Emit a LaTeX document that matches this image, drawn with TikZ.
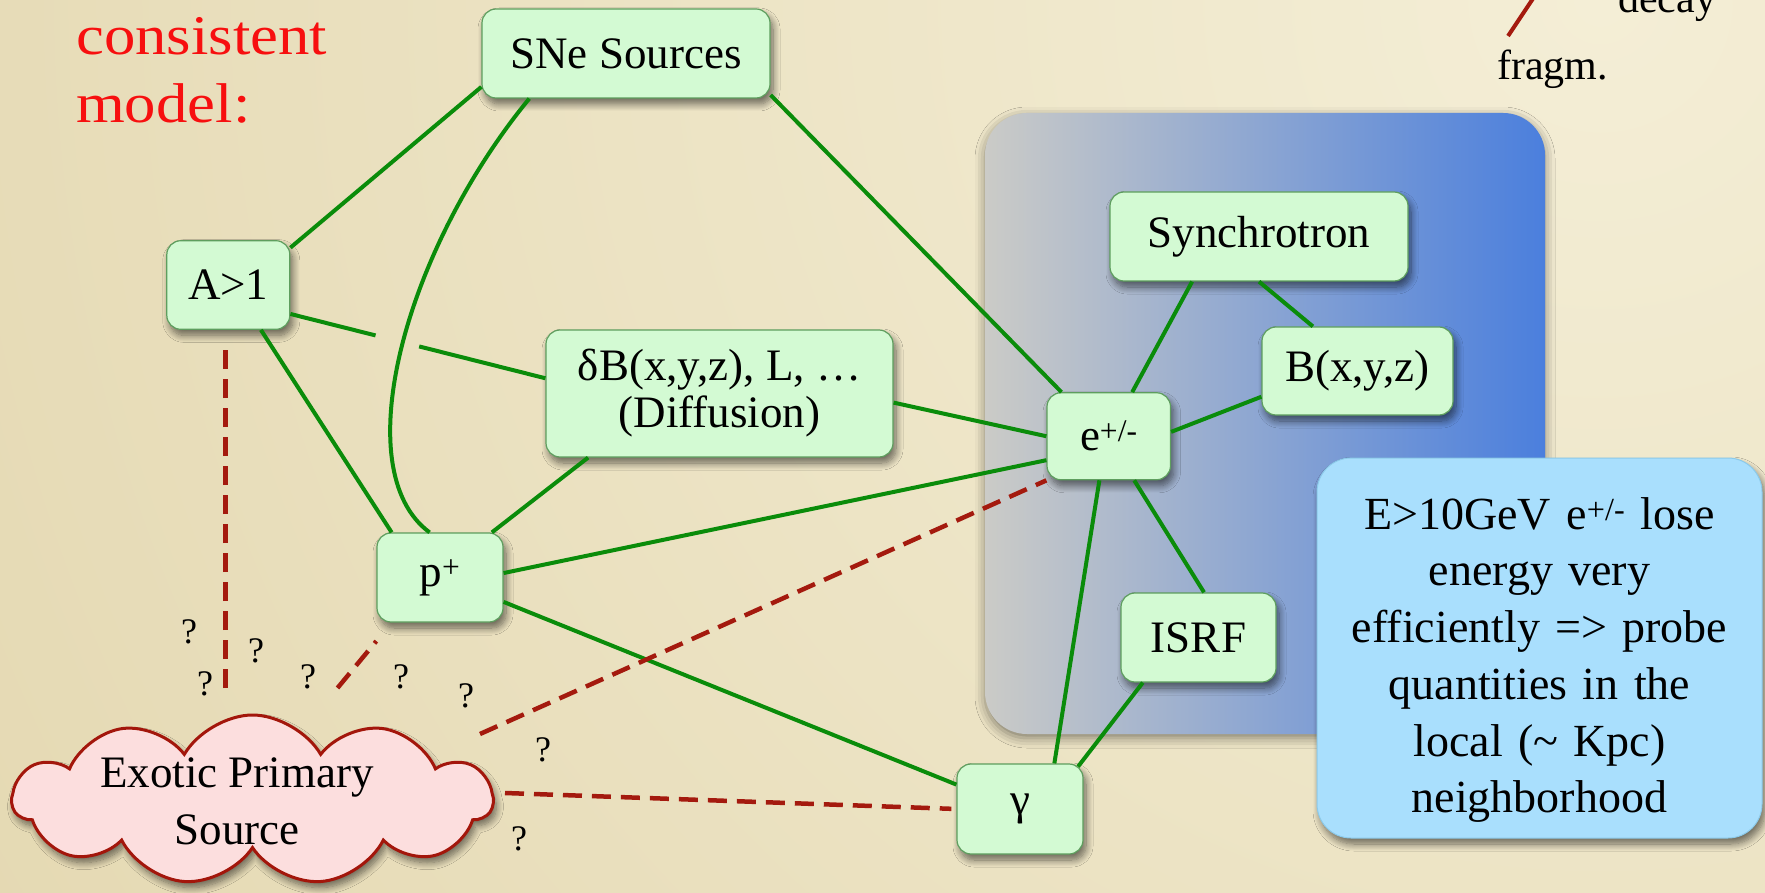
\documentclass[tikz,border=0pt]{standalone}
\usepackage{fontspec}
\setmainfont{Liberation Serif}
\newfontfamily\titlefont{Liberation Serif}[FakeStretch=1.12]
\usetikzlibrary{calc,shapes.symbols,shadows.blur}

\definecolor{parchlight}{HTML}{F4EED6}
\definecolor{parchdark}{HTML}{D5C38E}
\definecolor{linkgreen}{HTML}{0A8C0A}
\definecolor{boxfill}{HTML}{D3FAD3}
\definecolor{boxedge}{HTML}{5E9E5E}
\definecolor{qred}{HTML}{A41A0E}
\definecolor{cloudfill}{HTML}{FCDEDE}
\definecolor{cloudedge}{HTML}{A3160B}
\definecolor{panelleft}{HTML}{CBCBC7}
\definecolor{panelright}{HTML}{4B7FDD}
\definecolor{notefill}{HTML}{A9DFFD}
\definecolor{noteedge}{HTML}{8CCAEA}
\definecolor{titlered}{HTML}{F70F0F}

\tikzset{
  softshadow/.style={blur shadow={shadow xshift=3pt, shadow yshift=-6pt,
      shadow blur radius=7pt, shadow blur steps=10, shadow opacity=55}},
  stage/.style={draw=boxedge, line width=1.2pt, fill=boxfill,
      rounded corners=14pt, inner sep=0pt, align=center,
      font=\fontsize{45}{47}\selectfont, softshadow},
  notebox/.style={draw=noteedge, line width=1pt, fill=notefill,
      rounded corners=34pt, inner sep=0pt, align=center, text width=440pt,
      minimum width=445pt, minimum height=380pt,
      font=\fontsize{46}{56.7}\selectfont, softshadow},
  link/.style={draw=linkgreen, line width=4pt},
  qlink/.style={draw=qred, line width=4.5pt, dash pattern=on 19pt off 10pt},
  qmark/.style={inner sep=0pt, font=\fontsize{36}{36}\selectfont},
  plain/.style={inner sep=0pt},
}

\begin{document}
\begin{tikzpicture}[x=1pt,y=-1pt]
\useasboundingbox (0,0) rectangle (1765,893);
\begin{scope}
\clip (0,0) rectangle (1765,893);

% parchment background
\shade[inner color=parchlight, outer color=parchdark] (1600,0) circle (3800);

% local-propagation panel
\path[left color=panelleft, right color=panelright, rounded corners=42pt,
      blur shadow={shadow xshift=0pt, shadow yshift=-4pt, shadow blur radius=10pt, shadow opacity=45}]
  (985,113) rectangle (1545,734);

% heading
\node[plain, anchor=north west, align=left, text=titlered,
      font=\titlefont\fontsize{56}{68}\selectfont] (title) at (76,17) {consistent\\model:};

% labels at the top right
\node[plain, anchor=base west, font=\fontsize{42}{42}\selectfont] (decay) at (1618,13) {decay};
\node[plain, anchor=base west, font=\fontsize{42}{42}\selectfont] (fragm) at (1497,80) {fragm.};
\coordinate (slashfoot) at (1508,36);
\draw[draw=qred, line width=4pt] (slashfoot) -- ++(32,-48);

% stages
\node[stage, minimum width=288pt, minimum height=89pt] (SNe) at (626,53.5) {SNe Sources};
\node[stage, minimum width=123pt, minimum height=88.6pt] (A1) at (228.3,285) {A>1};
\node[stage, minimum width=347pt, minimum height=127pt] (dB) at (719.5,393.5) {δB(x,y,z), L, \ldots\\(Diffusion)};
\node[stage, minimum width=126pt, minimum height=89pt] (pp) at (440,577.5) {p\textsuperscript{+}};
\node[stage, minimum width=123.5pt, minimum height=87pt] (e) at (1108.75,436.25) {e\textsuperscript{+/-}};
\node[stage, minimum width=298pt, minimum height=89pt] (Syn) at (1259,236.5) {Synchrotron};
\node[stage, minimum width=191pt, minimum height=88pt] (B) at (1357.5,371) {B(x,y,z)};
\node[stage, minimum width=155pt, minimum height=89pt] (ISRF) at (1198.5,637.5) {ISRF};
\node[stage, minimum width=126pt, minimum height=90pt] (gam) at (1020,809) {γ};

% exotic source cloud
\node[cloud, cloud puffs=11, cloud puff arc=120, aspect=2.75, draw=cloudedge,
      fill=cloudfill, line width=3pt, minimum width=480pt, minimum height=170pt,
      inner sep=0pt, softshadow] (src) at (252.5,800) {};
\node[plain, align=center, font=\fontsize{45}{57}\selectfont] (srclabel) at (237,801) {Exotic Primary\\Source};

% connections
\draw[link] (SNe.193) -- (A1.31);
\draw[link] (SNe.205) .. controls (405,250) and (345,470) .. (pp.103);
\draw[link] (SNe.-16) -- (e.137);
\draw[link] (A1.-25) -- ($(A1.-25)!0.334!(dB.175)$);
\draw[link] ($(A1.-25)!0.505!(dB.175)$) -- (dB.175);
\draw[link] (A1.-54) -- (pp.137);
\draw[link] (dB.206) -- (pp.41);
\draw[link] (dB.-3) -- (e.180);
\draw[link] (pp.4) -- (e.201);
\draw[link] (pp.-21) -- (gam.159);
\draw[link] (e.258) -- (gam.53);
\draw[link] (e.-60) -- (ISRF.83);
\draw[link, shorten >=-4pt] (ISRF.219) -- (gam.37);
\draw[link] (Syn.214) -- (e.62);
\draw[link] (Syn.south) -- (B.135);
\draw[link] (e.4) -- (B.195);

% uncertain links from the exotic source
\coordinate (qa) at ($(src.center)+(-27,-112)$);
\coordinate (qp) at ($(src.center)+(85,-112)$);
\coordinate (qe) at ($(src.center)+(227.5,-66)$);
\coordinate (qg) at ($(src.center)+(252.5,-7)$);
\draw[qlink, shorten >=20pt] (qa) -- (qa |- A1.south);
\draw[qlink, shorten >=24pt] (qp) -- (pp.223);
\draw[qlink] (qe) -- (e.south west);
\draw[qlink, shorten >=5pt] (qg) -- (gam.west);

\node[qmark] (q1) at (189,632) {?};
\node[qmark] (q2) at (256,651) {?};
\node[qmark] (q3) at (205,684) {?};
\node[qmark] (q4) at (308,677) {?};
\node[qmark] (q5) at (401,677) {?};
\node[qmark] (q6) at (466,696) {?};
\node[qmark] (q7) at (543,750) {?};
\node[qmark] (q8) at (519,839) {?};

% note
\node[notebox] (note) at (1539.5,648) {\rule{0pt}{56pt}E>10GeV e\textsuperscript{+/-} lose\\energy very\\efficiently => probe\\quantities in the\\local (\textasciitilde{} Kpc)\\neighborhood};
\end{scope}
\end{tikzpicture}
\end{document}
